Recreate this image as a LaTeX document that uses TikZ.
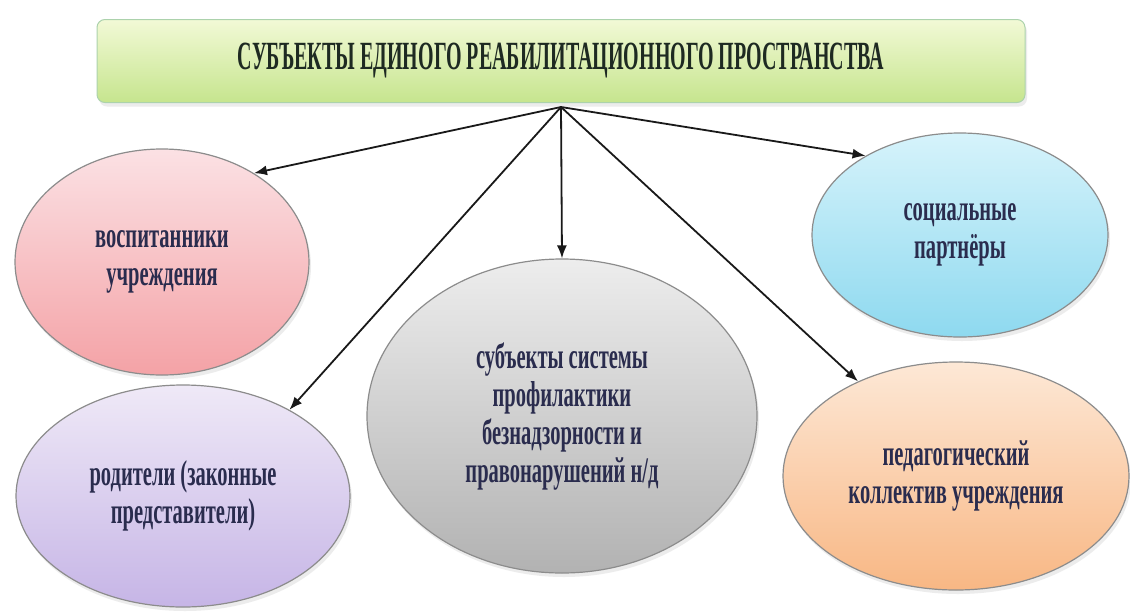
\documentclass[tikz,border=0pt]{standalone}
\usepackage{fontspec}
\setmainfont{Liberation Serif}
\newfontfamily\condtitle[FakeStretch=0.50,UprightFont=* Bold]{Liberation Serif}
\newfontfamily\condbody[FakeStretch=0.57,UprightFont=* Bold]{Liberation Serif}
\usetikzlibrary{arrows.meta,shapes.geometric,shadows}
\definecolor{txt}{HTML}{2A2C4E}
\definecolor{ttl}{HTML}{1E2A22}
\definecolor{pinkT}{HTML}{FBE1E4}\definecolor{pinkB}{HTML}{F4A2A6}
\definecolor{purT}{HTML}{EFE9F7}\definecolor{purB}{HTML}{C6B5E6}
\definecolor{grayT}{HTML}{EDEDED}\definecolor{grayB}{HTML}{B2B2B2}
\definecolor{cyanT}{HTML}{D6F3FB}\definecolor{cyanB}{HTML}{8ED9EF}
\definecolor{oraT}{HTML}{FDE8D6}\definecolor{oraB}{HTML}{F8B784}
\definecolor{ttlT}{HTML}{F2F9D6}\definecolor{ttlB}{HTML}{C6E58E}
\tikzset{
  bubble/.style={ellipse, draw=black!45, line width=1.2pt, inner sep=0pt,
    align=center, text=txt, font=\condbody\fontsize{36}{38}\selectfont,
    drop shadow={shadow xshift=2pt, shadow yshift=-4pt, fill=black!12, opacity=0.6}},
  link/.style={-{Latex[length=13pt,width=10pt]}, line width=1.8pt, black!90},
}
\begin{document}
\begin{tikzpicture}[x=1pt,y=-1pt]
\useasboundingbox (0,0) rectangle (1130,614);
\fill[white] (0,0) rectangle (1130,614);

\node[rounded corners=8pt, draw=green!30!gray!50, line width=1pt,
  top color=ttlT, bottom color=ttlB,
  minimum width=928pt, minimum height=83pt, inner sep=0pt,
  drop shadow={shadow xshift=2pt, shadow yshift=-4pt, fill=black!12, opacity=0.6},
  text=ttl, font=\condtitle\fontsize{40}{42}\selectfont] (title) at (561,61)
  {СУБЪЕКТЫ ЕДИНОГО РЕАБИЛИТАЦИОННОГО ПРОСТРАНСТВА};

\node[bubble, top color=pinkT, bottom color=pinkB,
  minimum width=294pt, minimum height=226pt] (pink) at (162,262)
  {воспитанники\\учреждения};
\node[bubble, top color=purT, bottom color=purB,
  minimum width=334pt, minimum height=222pt] (purple) at (183,496)
  {родители (законные\\представители)};
\node[bubble, top color=grayT, bottom color=grayB,
  minimum width=390pt, minimum height=314pt] (gray) at (562,416)
  {субъекты системы\\профилактики\\безнадзорности и\\правонарушений н/д};
\node[bubble, top color=cyanT, bottom color=cyanB,
  minimum width=296pt, minimum height=204pt] (cyan) at (960,235)
  {социальные\\партнёры};
\node[bubble, top color=oraT, bottom color=oraB,
  minimum width=346pt, minimum height=228pt] (orange) at (956,476)
  {педагогический\\коллектив учреждения};

\coordinate (hub) at ([yshift=-4pt]title.south);
\draw[link] (hub) -- (pink.44);
\draw[link] (hub) -- (purple.39);
\draw[link] (hub) -- (gray.90);
\draw[link] (hub) -- (cyan.140);
\draw[link] (hub) -- (orange.136);
\end{tikzpicture}
\end{document}
